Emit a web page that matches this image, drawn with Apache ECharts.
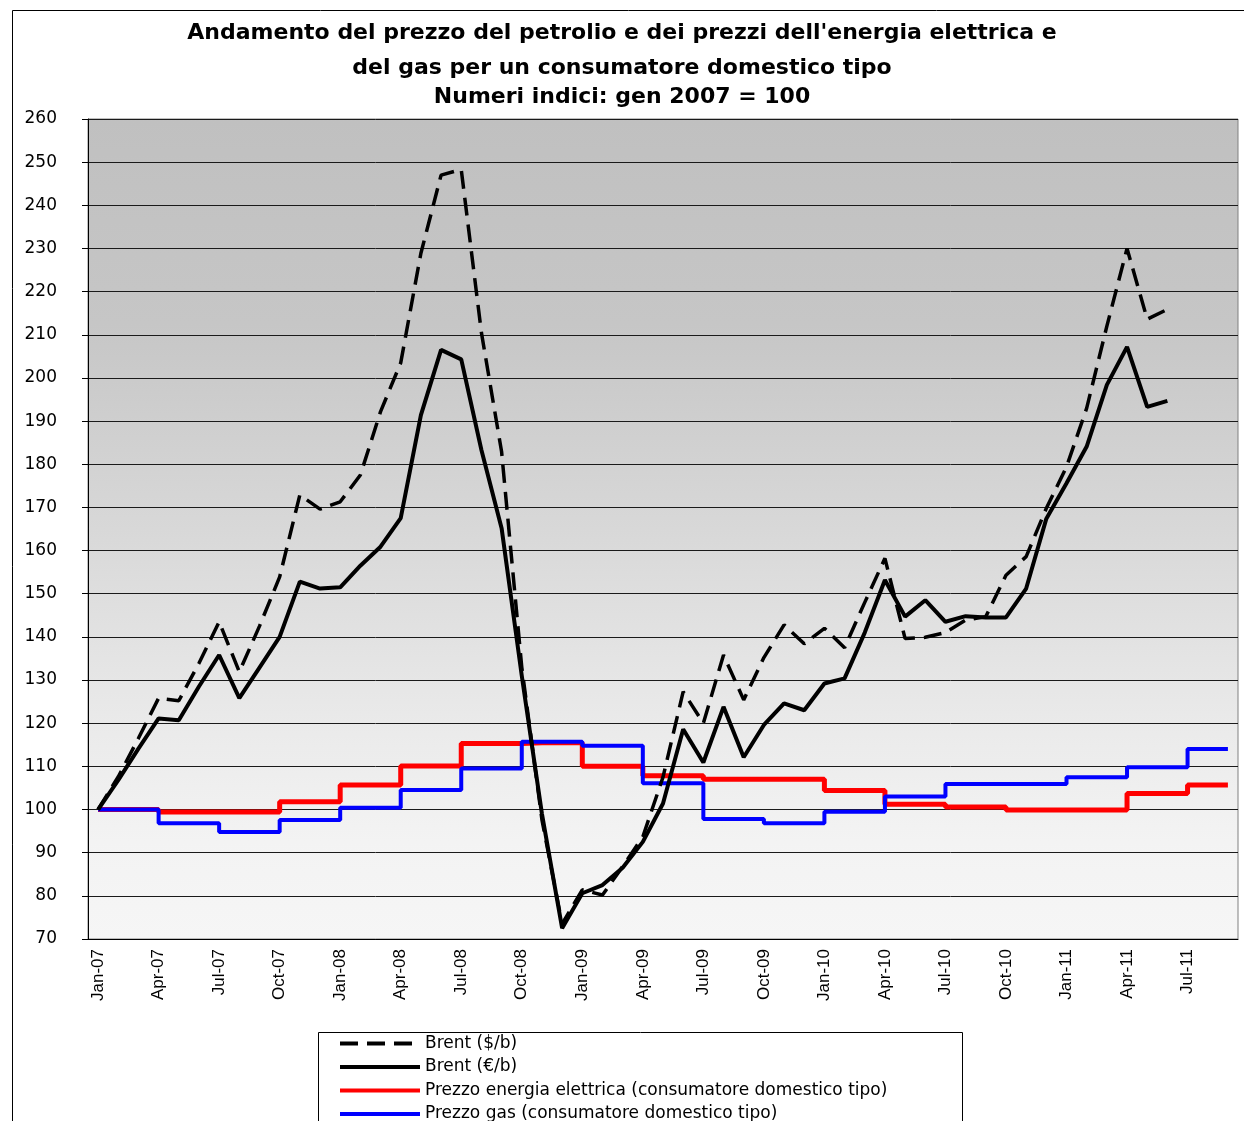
<!DOCTYPE html>
<html>
<head>
<meta charset="utf-8">
<script src="https://cdn.jsdelivr.net/npm/echarts@6/dist/echarts.min.js"></script>
<style>
html,body{margin:0;padding:0;background:#fff;}
#chart{width:1244px;height:1121px;}
</style>
</head>
<body>
<div id="chart"></div>
<script>
// ---- DATA ----
const categories = [
  'Jan-07','Feb-07','Mar-07','Apr-07','May-07','Jun-07','Jul-07','Aug-07','Sep-07','Oct-07','Nov-07','Dec-07',
  'Jan-08','Feb-08','Mar-08','Apr-08','May-08','Jun-08','Jul-08','Aug-08','Sep-08','Oct-08','Nov-08','Dec-08',
  'Jan-09','Feb-09','Mar-09','Apr-09','May-09','Jun-09','Jul-09','Aug-09','Sep-09','Oct-09','Nov-09','Dec-09',
  'Jan-10','Feb-10','Mar-10','Apr-10','May-10','Jun-10','Jul-10','Aug-10','Sep-10','Oct-10','Nov-10','Dec-10',
  'Jan-11','Feb-11','Mar-11','Apr-11','May-11','Jun-11','Jul-11','Aug-11','Sep-11'
];

const brentUsd = [
  100, 107.6, 116.5, 125.8, 125.2, 133.9, 143.5, 131.9, 142.5, 153.9, 172.9, 169.6,
  171.3, 177.5, 192.2, 203.5, 228.9, 247.0, 248.3, 210.5, 182.9, 133.0, 97.6, 73.5,
  81.4, 80.2, 86.8, 93.7, 107.5, 127.3, 120.0, 135.8, 125.4, 135.2, 142.8, 138.4,
  142.0, 137.5, 148.0, 158.2, 139.6, 139.9, 141.0, 143.9, 144.7, 154.3, 158.6, 169.8,
  179.4, 193.0, 212.0, 230.0, 213.6, 215.9
];

const brentEur = [
  100, 106.8, 114.1, 121.1, 120.7, 128.5, 135.8, 125.8, 132.9, 140.0, 152.8, 151.2,
  151.5, 156.5, 160.9, 167.5, 191.4, 206.5, 204.3, 183.3, 165.2, 131.0, 99.0, 72.5,
  80.6, 82.5, 86.5, 92.5, 101.4, 118.6, 110.9, 123.8, 112.1, 119.6, 124.6, 123.0,
  129.2, 130.4, 141.0, 153.2, 144.7, 148.5, 143.5, 144.8, 144.5, 144.5, 151.2, 167.4,
  175.6, 184.1, 198.4, 207.2, 193.3, 194.7
];

const elecPrice = [
  100, 100, 100, 99.4, 99.4, 99.4, 99.4, 99.4, 99.4, 101.8, 101.8, 101.8,
  105.7, 105.7, 105.7, 110.1, 110.1, 110.1, 115.3, 115.3, 115.3, 115.5, 115.5, 115.5,
  110.0, 110.0, 110.0, 107.8, 107.8, 107.8, 107.0, 107.0, 107.0, 107.0, 107.0, 107.0,
  104.4, 104.4, 104.4, 101.2, 101.2, 101.2, 100.6, 100.6, 100.6, 99.9, 99.9, 99.9,
  99.9, 99.9, 99.9, 103.7, 103.7, 103.7, 105.7, 105.7, 105.7
];

const gasPrice = [
  100, 100, 100, 96.8, 96.8, 96.8, 94.8, 94.8, 94.8, 97.6, 97.6, 97.6,
  100.4, 100.4, 100.4, 104.5, 104.5, 104.5, 109.5, 109.5, 109.5, 115.7, 115.7, 115.7,
  114.8, 114.8, 114.8, 106.1, 106.1, 106.1, 97.8, 97.8, 97.8, 96.8, 96.8, 96.8,
  99.5, 99.5, 99.5, 103.0, 103.0, 103.0, 105.9, 105.9, 105.9, 105.9, 105.9, 105.9,
  107.5, 107.5, 107.5, 109.8, 109.8, 109.8, 114.0, 114.0, 114.0
];

const seriesNames = [
  'Brent ($/b)',
  'Brent (€/b)',
  'Prezzo energia elettrica (consumatore domestico tipo)',
  'Prezzo gas (consumatore domestico tipo)'
];

const titleLines = [
  "Andamento del prezzo del petrolio e dei prezzi dell'energia elettrica e",
  'del gas per un consumatore domestico tipo',
  'Numeri indici: gen 2007 = 100'
];

// ---- CHART ----
const chart = echarts.init(document.getElementById('chart'), null, {renderer: 'canvas'});
const titleStyle = {fontFamily: 'DejaVu Sans', fontWeight: 'bold', fontSize: 22, color: '#000', lineHeight: 24};

chart.setOption({
  animation: false,
  backgroundColor: '#fff',
  title: [
    {text: titleLines[0], left: 'center', top: 21, padding: 0, textStyle: titleStyle},
    {text: titleLines[1], left: 'center', top: 56, padding: 0, textStyle: titleStyle},
    {text: titleLines[2], left: 'center', top: 85, padding: 0, textStyle: titleStyle}
  ],
  graphic: [
    {type: 'rect', left: 10, top: 8, z: -10, silent: true,
     shape: {x: 0, y: 0, width: 1232, height: 1200},
     style: {fill: null, stroke: '#000', lineWidth: 1}},
    {type: 'rect', left: 318, top: 1032, z: -5, silent: true,
     shape: {x: 0, y: 0, width: 644, height: 120},
     style: {fill: '#fff', stroke: '#000', lineWidth: 1}}
  ],
  grid: {
    left: 88, right: 6, top: 119, bottom: 182,
    show: true,
    borderColor: '#808080', borderWidth: 1,
    backgroundColor: new echarts.graphic.LinearGradient(0, 0, 0, 1, [
      {offset: 0, color: '#c0c0c0'},
      {offset: 0.25, color: '#c6c6c6'},
      {offset: 0.5, color: '#d8d8d8'},
      {offset: 0.75, color: '#ebebeb'},
      {offset: 0.88, color: '#f3f3f3'},
      {offset: 1, color: '#f6f6f6'}
    ])
  },
  legend: {
    orient: 'vertical',
    left: 338, top: 1035,
    width: 620, height: 200,
    padding: 0,
    itemWidth: 80, itemHeight: 16, itemGap: 6.5,
    data: seriesNames,
    itemStyle: {opacity: 0},
    lineStyle: {width: 4},
    textStyle: {fontFamily: 'DejaVu Sans', fontSize: 17, color: '#000', lineHeight: 16}
  },
  xAxis: {
    type: 'category',
    data: categories,
    boundaryGap: true,
    axisLine: {lineStyle: {color: '#000', width: 1}},
    axisTick: {show: false},
    axisLabel: {interval: 2, rotate: 90, fontFamily: 'Liberation Sans', fontSize: 17, color: '#000', margin: 10}
  },
  yAxis: {
    type: 'value',
    min: 70, max: 260, interval: 10,
    axisLine: {show: true, lineStyle: {color: '#000', width: 1}},
    axisTick: {show: true, length: 6, lineStyle: {color: '#000'}},
    axisLabel: {fontFamily: 'DejaVu Sans', fontSize: 17, color: '#000', margin: 31},
    splitLine: {show: true, lineStyle: {color: '#1a1a1a', width: 1}}
  },
  series: [
    {name: seriesNames[0], type: 'line', data: brentUsd, symbol: 'none', z: 4,
     lineStyle: {color: '#000', width: 3.5, type: [18, 9]}, itemStyle: {color: '#000'}},
    {name: seriesNames[1], type: 'line', data: brentEur, symbol: 'none', z: 5,
     lineStyle: {color: '#000', width: 4}, itemStyle: {color: '#000'}},
    {name: seriesNames[2], type: 'line', data: elecPrice, symbol: 'none', step: 'end', z: 2,
     lineStyle: {color: '#ff0000', width: 5}, itemStyle: {color: '#ff0000'}},
    {name: seriesNames[3], type: 'line', data: gasPrice, symbol: 'none', step: 'end', z: 3,
     lineStyle: {color: '#0000ff', width: 4}, itemStyle: {color: '#0000ff'}}
  ]
});
</script>
</body>
</html>
